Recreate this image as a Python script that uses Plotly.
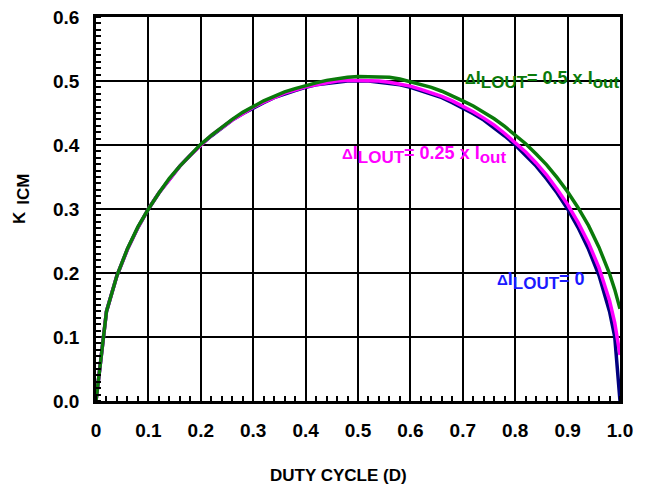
import plotly.graph_objects as go

# Duty cycle samples
duty = [0.00, 0.02, 0.04, 0.06, 0.08, 0.10, 0.12, 0.14, 0.16, 0.18,
        0.20, 0.22, 0.24, 0.26, 0.28, 0.30, 0.32, 0.34, 0.36, 0.38,
        0.40, 0.42, 0.44, 0.46, 0.48, 0.50, 0.52, 0.54, 0.56, 0.58,
        0.60, 0.62, 0.64, 0.66, 0.68, 0.70, 0.72, 0.74, 0.76, 0.78,
        0.80, 0.82, 0.84, 0.86, 0.88, 0.90, 0.92, 0.94, 0.96, 0.98,
        0.99, 1.00]

# K_ICM for dI_LOUT = 0
k_ripple_0 = [0, 0.140, 0.196, 0.237, 0.271, 0.300, 0.325, 0.347, 0.367, 0.384,
              0.400, 0.414, 0.427, 0.439, 0.449, 0.458, 0.466, 0.474, 0.480, 0.485,
              0.490, 0.494, 0.496, 0.498, 0.500, 0.500, 0.500, 0.498, 0.496, 0.494,
              0.490, 0.485, 0.480, 0.474, 0.466, 0.458, 0.449, 0.439, 0.427, 0.414,
              0.400, 0.384, 0.367, 0.347, 0.325, 0.300, 0.271, 0.237, 0.196, 0.140,
              0.100, 0]

# K_ICM for dI_LOUT = 0.25 x Iout
k_ripple_025 = [0, 0.140, 0.196, 0.237, 0.271, 0.300, 0.325, 0.347, 0.367, 0.384,
                0.400, 0.415, 0.427, 0.439, 0.449, 0.459, 0.467, 0.474, 0.481, 0.486,
                0.491, 0.494, 0.497, 0.500, 0.501, 0.501, 0.501, 0.500, 0.498, 0.495,
                0.492, 0.487, 0.482, 0.476, 0.469, 0.461, 0.452, 0.442, 0.431, 0.418,
                0.404, 0.389, 0.372, 0.353, 0.331, 0.307, 0.279, 0.247, 0.208, 0.157,
                0.122, 0.072]

# K_ICM for dI_LOUT = 0.5 x Iout
k_ripple_05 = [0, 0.140, 0.196, 0.238, 0.272, 0.300, 0.325, 0.348, 0.367, 0.385,
               0.401, 0.415, 0.428, 0.440, 0.451, 0.460, 0.469, 0.476, 0.483, 0.488,
               0.493, 0.497, 0.501, 0.504, 0.506, 0.507, 0.507, 0.507, 0.506, 0.503,
               0.499, 0.495, 0.490, 0.484, 0.477, 0.469, 0.461, 0.451, 0.441, 0.429,
               0.416, 0.402, 0.386, 0.369, 0.349, 0.327, 0.302, 0.274, 0.240, 0.199,
               0.174, 0.144]

x_tick_vals = [0, 0.1, 0.2, 0.3, 0.4, 0.5, 0.6, 0.7, 0.8, 0.9, 1.0]
x_tick_text = ["0", "0.1", "0.2", "0.3", "0.4", "0.5", "0.6", "0.7", "0.8", "0.9", "1.0"]
y_tick_vals = [0, 0.1, 0.2, 0.3, 0.4, 0.5, 0.6]
y_tick_text = ["0.0", "0.1", "0.2", "0.3", "0.4", "0.5", "0.6"]

FONT = "Liberation Sans, Arial, Helvetica, sans-serif"

fig = go.Figure()
fig.add_trace(go.Scatter(x=duty, y=k_ripple_0, mode="lines",
                         line=dict(color="#00007f", width=3.5), name="0"))
fig.add_trace(go.Scatter(x=duty, y=k_ripple_025, mode="lines",
                         line=dict(color="#ff00ff", width=3.5), name="0.25"))
fig.add_trace(go.Scatter(x=duty, y=k_ripple_05, mode="lines",
                         line=dict(color="#0a7a0a", width=3.5), name="0.5"))

axis_common = dict(
    showline=True, mirror=True, linecolor="black", linewidth=2.5,
    showgrid=True, gridcolor="black", gridwidth=2,
    zeroline=False, ticks="", automargin=False, ticklabeloverflow="allow",
    tickfont=dict(family=FONT, size=19, color="black", weight="bold"),
)

fig.update_xaxes(range=[0, 1], tickvals=x_tick_vals, ticktext=x_tick_text,
                 ticklabelstandoff=10,
                 minor=dict(dtick=0.02, tick0=0, ticks="inside", ticklen=5,
                            tickwidth=1.5, tickcolor="black", showgrid=False),
                 **axis_common)
fig.update_yaxes(range=[0, 0.6], tickvals=y_tick_vals, ticktext=y_tick_text,
                 ticklabelstandoff=10,
                 minor=dict(dtick=0.01, tick0=0, ticks="inside", ticklen=5,
                            tickwidth=1.5, tickcolor="black", showgrid=False),
                 **axis_common)


def ripple_label(rest, sub_tail):
    txt = ("<span style='font-size:15px'>Δ</span>I"
           "<sub><span style='font-size:17px'>LOUT</span></sub>" + rest)
    if sub_tail:
        txt += "<sub><span style='font-size:17px'>" + sub_tail + "</span></sub>"
    return txt


PLOT_W = 524.0
PLOT_H = 384.0

annos = [
    dict(x=0.700, y=0.502, xref="x", yref="y", xanchor="left", yanchor="middle",
         text=ripple_label("= 0.5 x I", "out"),
         font=dict(family=FONT, size=18, color="#0a7a0a", weight="bold")),
    dict(x=0.465, y=0.384, xref="x", yref="y", xanchor="left", yanchor="middle",
         text=ripple_label("= 0.25 x I", "out"),
         font=dict(family=FONT, size=18, color="#ff00ff", weight="bold")),
    dict(x=0.761, y=0.188, xref="x", yref="y", xanchor="left", yanchor="middle",
         text=ripple_label("= 0", ""),
         font=dict(family=FONT, size=18, color="#1a1aff", weight="bold")),
    dict(x=(339 - 96.5) / PLOT_W, y=-(475 - 400.7) / PLOT_H, xref="paper", yref="paper",
         xanchor="center", yanchor="middle", text="DUTY CYCLE (D)",
         font=dict(family=FONT, size=17, color="black", weight="bold")),
    dict(x=-(96.5 - 20.7) / PLOT_W, y=(400.7 - 217.5) / PLOT_H, xref="paper", yref="paper",
         xanchor="center", yanchor="middle", text="K", textangle=-90,
         font=dict(family=FONT, size=17, color="black", weight="bold")),
    dict(x=-(96.5 - 24.5) / PLOT_W, y=(400.7 - 189.5) / PLOT_H, xref="paper", yref="paper",
         xanchor="center", yanchor="middle", text="ICM", textangle=-90,
         font=dict(family=FONT, size=17, color="black", weight="bold")),
]
for a in annos:
    a["showarrow"] = False
    fig.add_annotation(**a)

# the page adds an 8px body margin, so the figure is sized/offset to compensate
fig.update_layout(
    width=641, height=479,
    margin=dict(l=88, r=29, t=9, b=86, autoexpand=False),
    paper_bgcolor="white", plot_bgcolor="white",
    showlegend=False,
    font=dict(family=FONT, color="black"),
)

fig.write_html("out.html")
